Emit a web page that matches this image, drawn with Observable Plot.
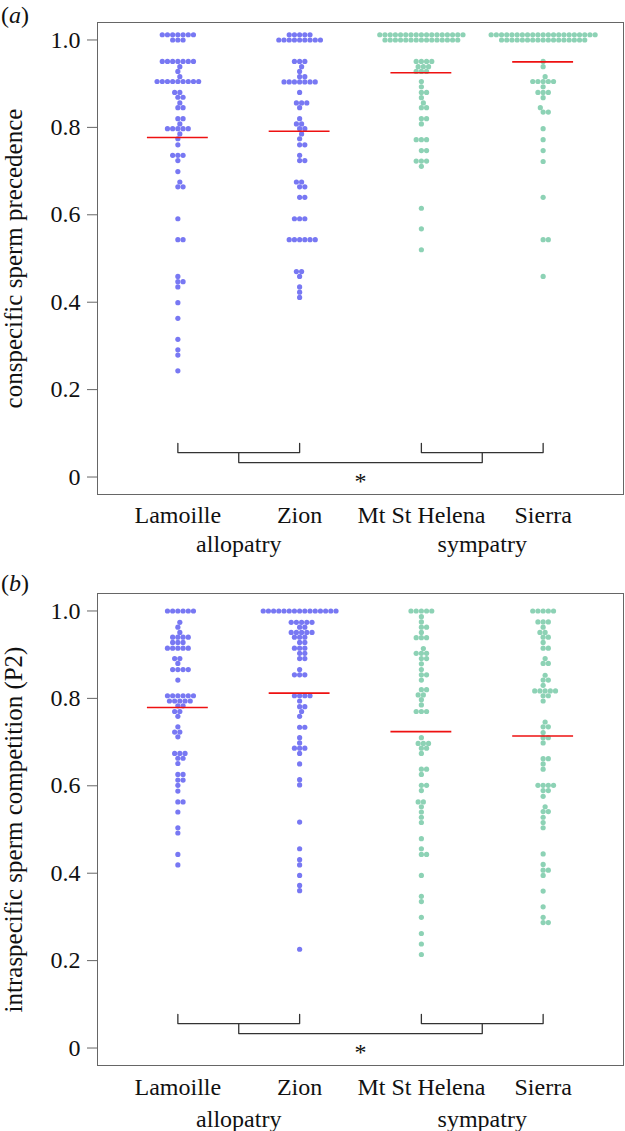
<!DOCTYPE html>
<html>
<head>
<meta charset="utf-8">
<script src="https://cdn.jsdelivr.net/npm/d3@7"></script>
<script src="https://cdn.jsdelivr.net/npm/@observablehq/plot@0.6"></script>
<style>
  html, body { margin: 0; padding: 0; background: #fff; }
  body { width: 625px; height: 1131px; overflow: hidden; position: relative; font-family: "Liberation Serif", "Times New Roman", serif; color: #111; }
  .panel { position: relative; width: 625px; }
  .tag { position: absolute; left: 1px; font-size: 24px; line-height: 1; }
  .tag i { font-style: italic; }
  svg { display: block; }
</style>
</head>
<body>
<div id="pa" class="panel"><span class="tag" style="top:3px">(<i>a</i>)</span></div>
<div id="pb" class="panel"><span class="tag" style="top:6px">(<i>b</i>)</span></div>
<script>
// ---------------- data ----------------
const sites = ["Lamoille", "Zion", "Mt St Helena", "Sierra"];
const siteRange = ["allopatry", "allopatry", "sympatry", "sympatry"];
const ranges = ["allopatry", "sympatry"];
const yTicks = [0, 0.2, 0.4, 0.6, 0.8, 1.0];
const yTickLabels = ["0", "0.2", "0.4", "0.6", "0.8", "1.0"];

// (a) conspecific sperm precedence
const precLamoille = [1.012,1.012,1.012,1.012,1.012,1.012,1.012, 1,1,1,
  0.951,0.951,0.951,0.951,0.951,0.951,0.951, 0.939, 0.928, 0.916,
  0.905,0.905,0.905,0.905,0.905,0.905,0.905,0.905,0.905,
  0.880,0.880, 0.869,0.869, 0.856, 0.845,0.845, 0.820,0.820, 0.808,
  0.797,0.797,0.797,0.797,0.797, 0.785, 0.774, 0.760, 0.736,0.736,0.736, 0.724,
  0.699, 0.675, 0.664,0.664, 0.591, 0.543,0.543, 0.459, 0.447,0.447, 0.435,
  0.399, 0.363, 0.315, 0.291, 0.279, 0.243];
const precZion = [1.012,1.012,1.012,1.012,1.012, 1,1,1,1,1,1,1,1,1,
  0.951,0.951,0.951, 0.939, 0.928, 0.916,0.916, 0.904,0.904,0.904,0.904,0.904,0.904,0.904,
  0.880, 0.856,0.856,0.856, 0.845, 0.820, 0.808,0.808, 0.797,0.797, 0.785, 0.774,
  0.760,0.760, 0.736, 0.724,0.724, 0.675,0.675, 0.664,0.664, 0.640,0.640,
  0.591,0.591,0.591, 0.543,0.543,0.543,0.543,0.543,0.543, 0.470,0.470, 0.459,
  0.435, 0.423, 0.411];
const precHelena = [1.012,1.012,1.012,1.012,1.012,1.012,1.012,1.012,1.012,1.012,1.012,1.012,1.012,1.012,1.012,1.012,1.012,
  1,1,1,1,1,1,1,1,1,1,1,1,1,1,1,
  0.951,0.951,0.951,0.951, 0.939,0.939,0.939, 0.928,0.928,0.928,
  0.905, 0.893, 0.880,0.880, 0.868, 0.856, 0.845,0.845, 0.820,0.820, 0.808,
  0.772,0.772,0.772, 0.747,0.747, 0.723,0.723,0.723, 0.711, 0.615, 0.568, 0.520];
const precSierra = [1.012,1.012,1.012,1.012,1.012,1.012,1.012,1.012,1.012,1.012,1.012,1.012,1.012,1.012,1.012,1.012,1.012,1.012,1.012,1.012,1.012,
  1,1,1,1,1,1,1,1,1,1,1,1,1,1,1,1,1,
  0.951, 0.939, 0.916, 0.905,0.905,0.905,0.905,0.905, 0.893, 0.880,0.880,0.880, 0.868,
  0.845, 0.835,0.835, 0.797, 0.772, 0.747, 0.722, 0.640, 0.543,0.543, 0.459];
const precMeans = [0.777, 0.791, 0.925, 0.950];

// (b) intraspecific sperm competition (P2)
const p2Lamoille = [1,1,1,1,1,1, 0.974, 0.963, 0.951, 0.940,0.940,0.940,0.940,
  0.928,0.928,0.928, 0.915,0.915,0.915,0.915,0.915, 0.891,0.891, 0.880,
  0.866,0.866,0.866,0.866, 0.842, 0.806,0.806,0.806,0.806,0.806,0.806,
  0.794,0.794,0.794,0.794,0.794, 0.783,0.783, 0.770,0.770, 0.759, 0.735,
  0.723,0.723, 0.712, 0.674,0.674,0.674, 0.663,0.663, 0.651, 0.626,0.626,
  0.613,0.613, 0.601, 0.588, 0.563,0.563, 0.540, 0.504, 0.492, 0.443, 0.419];
const p2Zion = [1,1,1,1,1,1,1,1,1,1,1,1,1,1,1, 0.974,0.974,0.974,0.974,0.974,
  0.963,0.963, 0.951,0.951,0.951,0.951,0.951, 0.940,0.940,0.940, 0.928,0.928,
  0.915,0.915,0.915, 0.903,0.903, 0.891,0.891, 0.866, 0.854,0.854,0.854,
  0.806,0.806,0.806,0.806, 0.794, 0.781,0.781, 0.770, 0.759, 0.734,0.734,
  0.710, 0.698, 0.686,0.686,0.686, 0.674, 0.650, 0.614, 0.602, 0.517, 0.456,
  0.431, 0.419, 0.395, 0.372, 0.360, 0.226];
const p2Helena = [1,1,1,1,1, 0.987, 0.975, 0.963,0.963, 0.951, 0.939,0.939,0.939,
  0.914, 0.903,0.903,0.903, 0.891,0.891, 0.879, 0.866, 0.854,0.854, 0.842,
  0.820,0.820, 0.808,0.808, 0.797, 0.785, 0.770,0.770,0.770, 0.710,
  0.697,0.697,0.697, 0.686,0.686, 0.674, 0.638,0.638, 0.626, 0.601,0.601, 0.589,
  0.563,0.563, 0.552, 0.540, 0.528, 0.516, 0.479, 0.456, 0.443,0.443, 0.395,
  0.347, 0.335, 0.299, 0.262, 0.238, 0.214];
const p2Sierra = [1,1,1,1,1, 0.975,0.975,0.975, 0.963, 0.951,0.951, 0.940,0.940,
  0.928, 0.915,0.915, 0.891, 0.880,0.880, 0.853, 0.842,0.842, 0.830,
  0.817,0.817,0.817,0.817,0.817, 0.806,0.806, 0.794, 0.746, 0.735,0.735, 0.722,
  0.710,0.710, 0.698, 0.662,0.662, 0.650, 0.638, 0.601,0.601,0.601,0.601,
  0.589,0.589, 0.576, 0.552, 0.541,0.541, 0.528, 0.516, 0.504, 0.444, 0.420,
  0.407,0.407, 0.395, 0.359, 0.323, 0.299, 0.287,0.287];
const p2Means = [0.779, 0.812, 0.724, 0.714];

// ---------------- styling / geometry ----------------
const W = 625;
const xDomain = [0.34, 4.66];
const yDomain = [-0.04, 1.04];
const rangeColor = {allopatry: "#7878f3", sympatry: "#8dd2b5"};
const dotR = 2.6;
const FS = 24;
const TITLE_FS = 25;
const bracketTick = 0.077, bracketBar = 0.056, bracketJoin = 0.033;

// beeswarm ("swarm", ascending priority) layout in pixel space
function swarm(py, D) {
  const order = d3.range(py.length).sort((a, b) => py[a] - py[b]);
  const xs = new Array(py.length);
  const placed = [];
  for (const i of order) {
    const yi = py[i];
    const near = placed.filter(j => Math.abs(py[j] - yi) < D);
    const cands = [0];
    for (const j of near) {
      const off = Math.sqrt(D * D - (py[j] - yi) ** 2);
      cands.push(xs[j] + off, xs[j] - off);
    }
    let best = null;
    for (const c of cands) {
      const ok = near.every(j => (xs[j] - c) ** 2 + (py[j] - yi) ** 2 >= D * D - 1e-6);
      if (ok && (best === null || Math.abs(c) < Math.abs(best) - 1e-9)) best = c;
    }
    xs[i] = best;
    placed.push(i);
  }
  return xs;
}

function makePanel(groups, means, yLabel, m) {
  const frameW = W - m.left - m.right;
  const frameH = m.height - m.top - m.bottom;
  const pxX = frameW / (xDomain[1] - xDomain[0]);
  const pxY = frameH / (yDomain[1] - yDomain[0]);
  const points = [];
  groups.forEach((vals, gi) => {
    const offs = swarm(vals.map(v => v * pxY), 2 * dotR);
    vals.forEach((v, k) => points.push({x: gi + 1 + offs[k] / pxX, v, range: siteRange[gi]}));
  });
  const meanRows = means.map((mv, i) => ({x1: i + 0.75, x2: i + 1.25, y: mv}));
  const brackets = [
    {k: "L", x: 1, y: bracketTick}, {k: "L", x: 1, y: bracketBar}, {k: "L", x: 2, y: bracketBar}, {k: "L", x: 2, y: bracketTick},
    {k: "R", x: 3, y: bracketTick}, {k: "R", x: 3, y: bracketBar}, {k: "R", x: 4, y: bracketBar}, {k: "R", x: 4, y: bracketTick},
    {k: "J", x: 1.5, y: bracketBar}, {k: "J", x: 1.5, y: bracketJoin}, {k: "J", x: 3.5, y: bracketJoin}, {k: "J", x: 3.5, y: bracketBar}
  ];
  return Plot.plot({
    width: W, height: m.height,
    marginLeft: m.left, marginRight: m.right, marginTop: m.top, marginBottom: m.bottom,
    style: {fontFamily: "'Liberation Serif', 'Times New Roman', serif", fontSize: FS + "px", background: "white", color: "#111", overflow: "visible"},
    x: {domain: xDomain, axis: null},
    y: {domain: yDomain, ticks: yTicks, tickFormat: d => yTickLabels[yTicks.indexOf(d)], tickSize: 10, tickPadding: 7, label: null},
    marks: [
      Plot.frame({stroke: "#666", strokeWidth: 1}),
      Plot.line(brackets, {x: "x", y: "y", z: "k", stroke: "#333", strokeWidth: 1.3}),
      Plot.dot(points, {x: "x", y: "v", r: dotR, fill: d => rangeColor[d.range], stroke: "none"}),
      Plot.ruleY(meanRows, {x1: "x1", x2: "x2", y: "y", stroke: "#ee1111", strokeWidth: 1.6}),
      Plot.text(["*"], {x: 2.5, y: 0, dy: 4, fontSize: FS}),
      Plot.text(sites, {x: (d, i) => i + 1, frameAnchor: "bottom", dy: m.siteDy, fontSize: FS}),
      Plot.text(ranges, {x: (d, i) => i * 2 + 1.5, frameAnchor: "bottom", dy: m.rangeDy, fontSize: FS}),
      Plot.text([yLabel], {frameAnchor: "left", textAnchor: "middle", rotate: -90, dx: m.titleDx, fontSize: TITLE_FS})
    ]
  });
}

function styleAxis(svg) {
  svg.querySelectorAll('[aria-label^="y-axis"] line, [aria-label^="y-axis"] path, g.tick line').forEach(l => l.setAttribute("stroke", "#666"));
}

const chartA = makePanel([precLamoille, precZion, precHelena, precSierra], precMeans,
  "conspecific sperm precedence",
  {height: 565, top: 22, bottom: 71, left: 97, right: 2, siteDy: 28, rangeDy: 57.5, titleDx: -84});
const chartB = makePanel([p2Lamoille, p2Zion, p2Helena, p2Sierra], p2Means,
  "intraspecific sperm competition (P2)",
  {height: 566, top: 28, bottom: 66, left: 97, right: 2, siteDy: 29.5, rangeDy: 61.5, titleDx: -84});

document.getElementById("pa").appendChild(chartA);
document.getElementById("pb").appendChild(chartB);
[chartA, chartB].forEach(c => styleAxis(c));
</script>
</body>
</html>
